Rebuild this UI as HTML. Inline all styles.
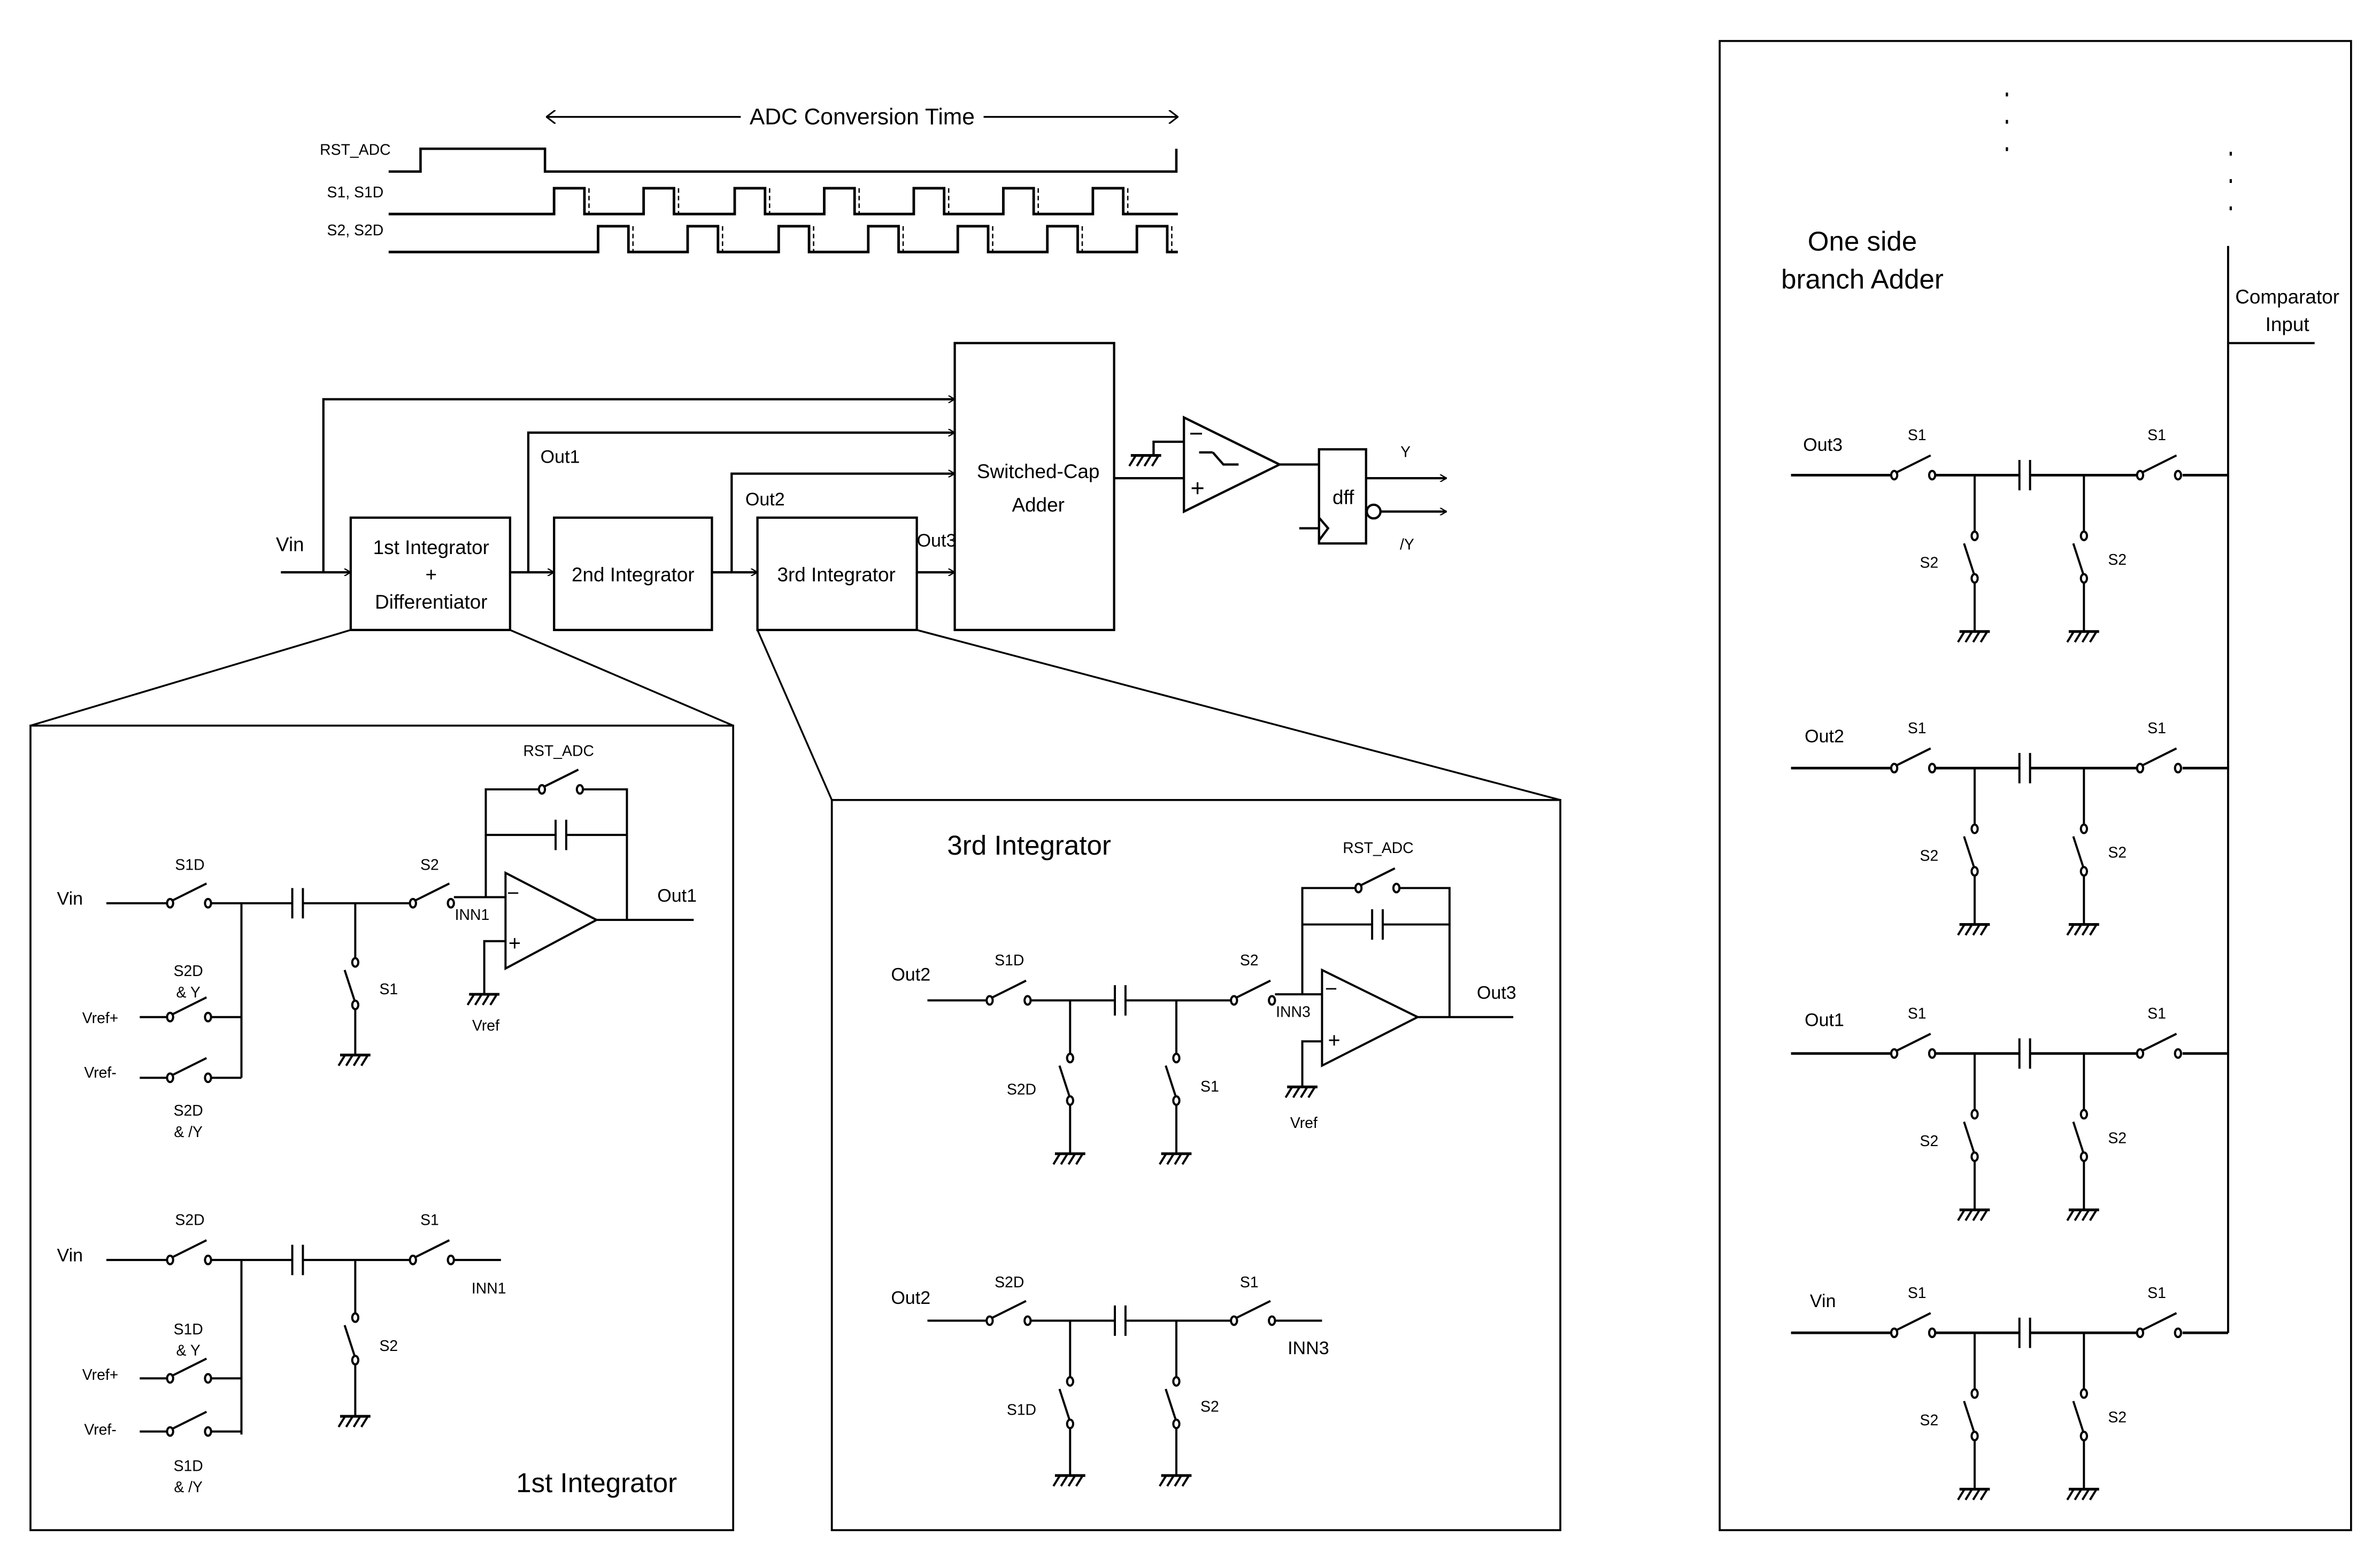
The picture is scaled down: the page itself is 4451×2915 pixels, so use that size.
<!DOCTYPE html>
<html><head><meta charset="utf-8">
<style>
html,body{margin:0;padding:0;background:#fff;}
svg{display:block;}
text{font-family:"Liberation Sans Narrow","Liberation Sans",sans-serif;fill:#000;}
</style></head>
<body>
<svg xmlns="http://www.w3.org/2000/svg" width="4451" height="2915" viewBox="0 0 1568 1027">
<defs>
<marker id="ar" viewBox="0 0 10 10" refX="9.5" refY="5" markerWidth="5" markerHeight="5" markerUnits="userSpaceOnUse" orient="auto">
<polyline points="1,0 9.5,5 1,10" fill="none" stroke="#000" stroke-width="1.6"/>
</marker>
<marker id="ar2" viewBox="0 0 10 10" refX="9.5" refY="5" markerWidth="9" markerHeight="9" markerUnits="userSpaceOnUse" orient="auto-start-reverse">
<polyline points="3,0 9.5,5 3,10" fill="none" stroke="#000" stroke-width="1.2"/>
</marker>
<g id="hsw" fill="#fff" stroke="#000" stroke-width="1.4">
<ellipse cx="0" cy="0" rx="2" ry="2.8"/><ellipse cx="25" cy="0" rx="2" ry="2.8"/>
<line x1="1.5" y1="-1.8" x2="24" y2="-13"/>
</g>
<g id="vsw" fill="#fff" stroke="#000" stroke-width="1.4">
<ellipse cx="0" cy="0" rx="2" ry="2.8"/><ellipse cx="0" cy="28" rx="2" ry="2.8"/>
<line x1="-0.5" y1="25" x2="-7" y2="5"/>
</g>
<g id="gnd" stroke="#000" stroke-width="1.4" fill="none">
<line x1="-10" y1="0" x2="10" y2="0" stroke-width="1.8"/>
<line x1="-7" y1="0.5" x2="-11" y2="7"/><line x1="-2" y1="0.5" x2="-6" y2="7"/>
<line x1="3" y1="0.5" x2="-1" y2="7"/><line x1="8" y1="0.5" x2="4" y2="7"/>
</g>
<g id="cap" stroke="#000" stroke-width="1.4">
<line x1="-3.5" y1="-10" x2="-3.5" y2="10"/><line x1="3.5" y1="-10" x2="3.5" y2="10"/>
</g>
</defs>

<g fill="none" stroke="#000" stroke-width="1.5">
<line x1="360" y1="77" x2="488" y2="77" marker-start="url(#ar2)" stroke-width="1.2"/>
<line x1="648" y1="77" x2="776" y2="77" marker-end="url(#ar2)" stroke-width="1.2"/>
<polyline points="256,113 277,113 277,98 359,98 359,113 775,113 775,98" stroke-width="1.6"/>
<path d="M256,141 H365 V124 H385 V141 H424 V124 H444 V141 H484 V124 H504 V141 H543 V124 H563 V141 H602 V124 H622 V141 H661 V124 H681 V141 H720 V124 H740 V141 H776" stroke-width="1.7"/>
<path d="M256,166 H394 V149 H414 V166 H453 V149 H473 V166 H513 V149 H533 V166 H572 V149 H592 V166 H631 V149 H651 V166 H690 V149 H710 V166 H749 V149 H769 V166 H776" stroke-width="1.7"/>
<g stroke-dasharray="3,2" stroke-width="0.9">
<line x1="388" y1="124" x2="388" y2="141"/><line x1="447" y1="124" x2="447" y2="141"/><line x1="507" y1="124" x2="507" y2="141"/><line x1="566" y1="124" x2="566" y2="141"/><line x1="625" y1="124" x2="625" y2="141"/><line x1="684" y1="124" x2="684" y2="141"/><line x1="743" y1="124" x2="743" y2="141"/>
<line x1="417" y1="149" x2="417" y2="166"/><line x1="476" y1="149" x2="476" y2="166"/><line x1="536" y1="149" x2="536" y2="166"/><line x1="595" y1="149" x2="595" y2="166"/><line x1="654" y1="149" x2="654" y2="166"/><line x1="713" y1="149" x2="713" y2="166"/><line x1="772" y1="149" x2="772" y2="166"/>
</g>

<rect x="629" y="226" width="105" height="189"/>
<rect x="231" y="341" width="105" height="74"/>
<rect x="365" y="341" width="104" height="74"/>
<rect x="499" y="341" width="105" height="74"/>
<line x1="185" y1="377" x2="231" y2="377" marker-end="url(#ar)"/>
<polyline points="213,377 213,263 629,263" marker-end="url(#ar)"/>
<line x1="336" y1="377" x2="365" y2="377" marker-end="url(#ar)"/>
<polyline points="348,377 348,285 629,285" marker-end="url(#ar)"/>
<line x1="469" y1="377" x2="499" y2="377" marker-end="url(#ar)"/>
<polyline points="482,377 482,312 629,312" marker-end="url(#ar)"/>
<line x1="604" y1="377" x2="629" y2="377" marker-end="url(#ar)"/>
<line x1="734" y1="315" x2="780" y2="315"/>
<polygon points="780,275 780,337 843,306"/>
<polyline points="780,291 760,291 760,300"/>
<line x1="790" y1="298" x2="799" y2="298"/><polyline points="799,298 806,306 816,306"/>
<line x1="843" y1="306" x2="869" y2="306"/>
<rect x="869" y="296" width="31" height="62"/>
<polyline points="869,341 875,348 869,356"/>
<line x1="856" y1="348" x2="869" y2="348"/>
<line x1="900" y1="315" x2="953" y2="315" marker-end="url(#ar)"/>
<circle cx="905" cy="337" r="4.5" fill="#fff"/>
<line x1="909.5" y1="337" x2="953" y2="337" marker-end="url(#ar)"/>
<line x1="231" y1="415" x2="20" y2="478" stroke-width="1.2"/>
<line x1="336" y1="415" x2="483" y2="478" stroke-width="1.2"/>
<line x1="499" y1="415" x2="548" y2="527" stroke-width="1.2"/>
<line x1="604" y1="415" x2="1028" y2="527" stroke-width="1.2"/>
<rect x="20" y="478" width="463" height="530" stroke-width="1.3"/>
<rect x="548" y="527" width="480" height="481" stroke-width="1.3"/>
<rect x="1133" y="27" width="416" height="981" stroke-width="1.3"/>
</g>
<use href="#gnd" x="755" y="300"/>
<g font-size="13" text-anchor="middle">
<text x="568" y="82" font-size="15">ADC Conversion Time</text>
<text x="234" y="102" font-size="10">RST_ADC</text>
<text x="234" y="130" font-size="10">S1, S1D</text>
<text x="234" y="155" font-size="10">S2, S2D</text>
<text x="684" y="315">Switched-Cap</text><text x="684" y="337">Adder</text>
<text x="284" y="365">1st Integrator</text><text x="284" y="383">+</text><text x="284" y="401">Differentiator</text>
<text x="417" y="383">2nd Integrator</text>
<text x="551" y="383">3rd Integrator</text>
<text x="191" y="363">Vin</text>
<text x="369" y="305" font-size="12">Out1</text>
<text x="504" y="333" font-size="12">Out2</text>
<text x="617" y="360" font-size="12">Out3</text>
<text x="788" y="291" font-size="16">−</text>
<text x="789" y="327" font-size="16">+</text>
<text x="885" y="332">dff</text>
<text x="926" y="301" font-size="10">Y</text>
<text x="927" y="362" font-size="10">/Y</text>
</g>

<g fill="none" stroke="#000" stroke-width="1.4">
<line x1="70" y1="595" x2="110" y2="595"/>
<line x1="139" y1="595" x2="192" y2="595"/><line x1="200" y1="595" x2="270" y2="595"/>
<line x1="159" y1="595" x2="159" y2="710"/>
<line x1="92" y1="670" x2="110" y2="670"/><line x1="139" y1="670" x2="159" y2="670"/>
<line x1="92" y1="710" x2="110" y2="710"/><line x1="139" y1="710" x2="159" y2="710"/>
<line x1="234" y1="595" x2="234" y2="632"/><line x1="234" y1="664" x2="234" y2="695"/>
<line x1="299" y1="591" x2="333" y2="591"/>
<polygon points="333,575 333,638 393,606"/>
<polyline points="333,620 319,620 319,655"/>
<polyline points="320,591 320,520 355,520"/><polyline points="384,520 413,520 413,606"/>
<line x1="320" y1="550" x2="366" y2="550"/><line x1="373" y1="550" x2="413" y2="550"/>
<line x1="393" y1="606" x2="457" y2="606"/>
<line x1="70" y1="830" x2="110" y2="830"/>
<line x1="139" y1="830" x2="192" y2="830"/><line x1="200" y1="830" x2="270" y2="830"/>
<line x1="299" y1="830" x2="330" y2="830"/>
<line x1="159" y1="830" x2="159" y2="945"/>
<line x1="92" y1="908" x2="110" y2="908"/><line x1="139" y1="908" x2="159" y2="908"/>
<line x1="92" y1="943" x2="110" y2="943"/><line x1="139" y1="943" x2="159" y2="943"/>
<line x1="234" y1="830" x2="234" y2="866"/><line x1="234" y1="898" x2="234" y2="933"/>
</g>
<use href="#hsw" x="112" y="595"/><use href="#hsw" x="112" y="670"/><use href="#hsw" x="112" y="710"/>
<use href="#hsw" x="272" y="595"/><use href="#hsw" x="357" y="520"/>
<use href="#cap" x="196" y="595"/><use href="#cap" x="369.5" y="550"/>
<use href="#vsw" x="234" y="634"/><use href="#gnd" x="234" y="695"/><use href="#gnd" x="319" y="655"/>
<use href="#hsw" x="112" y="830"/><use href="#hsw" x="112" y="908"/><use href="#hsw" x="112" y="943"/>
<use href="#hsw" x="272" y="830"/><use href="#cap" x="196" y="830"/>
<use href="#vsw" x="234" y="868"/><use href="#gnd" x="234" y="933"/>
<g font-size="10" text-anchor="middle">
<text x="46" y="596" font-size="12">Vin</text>
<text x="125" y="573">S1D</text><text x="283" y="573">S2</text>
<text x="124" y="643">S2D</text><text x="124" y="657">&amp; Y</text>
<text x="66" y="674">Vref+</text><text x="66" y="710">Vref-</text>
<text x="124" y="735">S2D</text><text x="124" y="749">&amp; /Y</text>
<text x="256" y="655">S1</text>
<text x="311" y="606">INN1</text>
<text x="320" y="679">Vref</text>
<text x="368" y="498">RST_ADC</text>
<text x="446" y="594" font-size="12">Out1</text>
<text x="338" y="593" font-size="14">−</text><text x="339" y="626" font-size="14">+</text>
<text x="46" y="831" font-size="12">Vin</text>
<text x="125" y="807">S2D</text><text x="283" y="807">S1</text>
<text x="322" y="852">INN1</text>
<text x="124" y="879">S1D</text><text x="124" y="893">&amp; Y</text>
<text x="66" y="909">Vref+</text><text x="66" y="945">Vref-</text>
<text x="124" y="969">S1D</text><text x="124" y="983">&amp; /Y</text>
<text x="256" y="890">S2</text>
<text x="393" y="983" font-size="18">1st Integrator</text>
</g>

<g fill="none" stroke="#000" stroke-width="1.4">
<line x1="611" y1="659" x2="650" y2="659"/>
<line x1="679" y1="659" x2="734" y2="659"/><line x1="742" y1="659" x2="811" y2="659"/>
<line x1="705" y1="659" x2="705" y2="695"/><line x1="705" y1="727" x2="705" y2="760"/>
<line x1="775" y1="659" x2="775" y2="695"/><line x1="775" y1="727" x2="775" y2="760"/>
<line x1="840" y1="655" x2="871" y2="655"/>
<polygon points="871,639 871,702 934,670"/>
<polyline points="871,686 858,686 858,716"/>
<polyline points="858,655 858,585 893,585"/><polyline points="922,585 955,585 955,670"/>
<line x1="858" y1="609" x2="904" y2="609"/><line x1="911" y1="609" x2="955" y2="609"/>
<line x1="934" y1="670" x2="997" y2="670"/>
<line x1="611" y1="870" x2="650" y2="870"/>
<line x1="679" y1="870" x2="734" y2="870"/><line x1="742" y1="870" x2="811" y2="870"/>
<line x1="840" y1="870" x2="871" y2="870"/>
<line x1="705" y1="870" x2="705" y2="908"/><line x1="705" y1="940" x2="705" y2="972"/>
<line x1="775" y1="870" x2="775" y2="908"/><line x1="775" y1="940" x2="775" y2="972"/>
</g>
<use href="#hsw" x="652" y="659"/><use href="#hsw" x="813" y="659"/><use href="#hsw" x="895" y="585"/>
<use href="#cap" x="738" y="659"/><use href="#cap" x="907.5" y="609"/>
<use href="#vsw" x="705" y="697"/><use href="#vsw" x="775" y="697"/>
<use href="#gnd" x="705" y="760"/><use href="#gnd" x="775" y="760"/><use href="#gnd" x="858" y="716"/>
<use href="#hsw" x="652" y="870"/><use href="#hsw" x="813" y="870"/><use href="#cap" x="738" y="870"/>
<use href="#vsw" x="705" y="910"/><use href="#vsw" x="775" y="910"/>
<use href="#gnd" x="705" y="972"/><use href="#gnd" x="775" y="972"/>
<g font-size="10" text-anchor="middle">
<text x="678" y="563" font-size="18">3rd Integrator</text>
<text x="600" y="646" font-size="12">Out2</text>
<text x="665" y="636">S1D</text><text x="823" y="636">S2</text>
<text x="852" y="670">INN3</text>
<text x="673" y="721">S2D</text><text x="797" y="719">S1</text>
<text x="859" y="743">Vref</text>
<text x="908" y="562">RST_ADC</text>
<text x="986" y="658" font-size="12">Out3</text>
<text x="877" y="656" font-size="14">−</text><text x="879" y="690" font-size="14">+</text>
<text x="600" y="859" font-size="12">Out2</text>
<text x="665" y="848">S2D</text><text x="823" y="848">S1</text>
<text x="862" y="892" font-size="12">INN3</text>
<text x="673" y="932">S1D</text><text x="797" y="930">S2</text>
</g>

<g fill="none" stroke="#000" stroke-width="1.4">
<line x1="1468" y1="162" x2="1468" y2="878"/>
<line x1="1468" y1="226" x2="1525" y2="226"/>
</g>
<g fill="#000">
<rect x="1321.5" y="61" width="1.5" height="2.5"/><rect x="1321.5" y="79" width="1.5" height="2.5"/><rect x="1321.5" y="97" width="1.5" height="2.5"/>
<rect x="1469" y="100" width="1.5" height="2.5"/><rect x="1469" y="118" width="1.5" height="2.5"/><rect x="1469" y="136" width="1.5" height="2.5"/>
</g>
<g font-size="13" text-anchor="middle">
<text x="1227" y="165" font-size="18">One side</text>
<text x="1227" y="190" font-size="18">branch Adder</text>
<text x="1507" y="200">Comparator</text><text x="1507" y="218">Input</text>
</g>

<g id="row1">
<g fill="none" stroke="#000" stroke-width="1.4">
<line x1="1180" y1="313" x2="1246" y2="313" stroke-width="1.7"/>
<line x1="1275" y1="313" x2="1330" y2="313" stroke-width="1.7"/><line x1="1338" y1="313" x2="1408" y2="313" stroke-width="1.7"/>
<line x1="1438" y1="313" x2="1468" y2="313" stroke-width="1.7"/>
<line x1="1301" y1="313" x2="1301" y2="351"/><line x1="1301" y1="383" x2="1301" y2="416"/>
<line x1="1373" y1="313" x2="1373" y2="351"/><line x1="1373" y1="383" x2="1373" y2="416"/>
</g>
<use href="#hsw" x="1248" y="313"/><use href="#hsw" x="1410" y="313"/><use href="#cap" x="1334" y="313"/>
<use href="#vsw" x="1301" y="353"/><use href="#vsw" x="1373" y="353"/>
<use href="#gnd" x="1301" y="416"/><use href="#gnd" x="1373" y="416"/>
<g font-size="10" text-anchor="middle"><text x="1263" y="290">S1</text><text x="1421" y="290">S1</text><text x="1271" y="374">S2</text><text x="1395" y="372">S2</text></g>
</g>
<use href="#row1" x="0" y="193"/>
<use href="#row1" x="0" y="381"/>
<use href="#row1" x="0" y="565"/>
<g font-size="12" text-anchor="middle">
<text x="1201" y="297">Out3</text>
<text x="1202" y="489">Out2</text>
<text x="1202" y="676">Out1</text>
<text x="1201" y="861">Vin</text>
</g>
</svg>
</body></html>
